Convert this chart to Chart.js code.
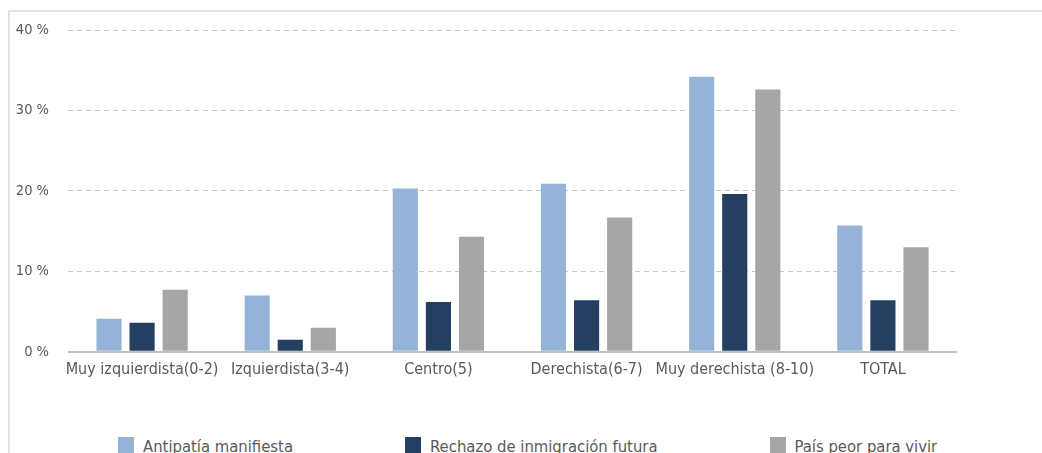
<!DOCTYPE html>
<html>
<head>
<meta charset="utf-8">
<script src="https://cdn.jsdelivr.net/npm/chart.js@4.4.1/dist/chart.umd.min.js"></script>
<style>
  html, body { margin: 0; padding: 0; background: #fff; overflow: hidden; width: 1042px; height: 453px; }
  #frame { position: absolute; left: 8px; top: 10px; width: 1100px; height: 500px; border: 2px solid #e2e2e2; box-sizing: border-box; }
  #wrap { position: absolute; left: 0; top: 0; width: 1042px; height: 400px; }
  #legend { position: absolute; left: 118px; top: 437px; display: flex; gap: 112px; font-family: 'DejaVu Sans Condensed', 'DejaVu Sans', sans-serif; font-size: 16.5px; color: #595959; white-space: nowrap; }
  #legend .item { display: flex; align-items: flex-start; }
  #legend .box { width: 16px; height: 20px; margin-right: 9px; }
  #legend .txt { line-height: 19px; }
</style>
</head>
<body>
<div id="frame"></div>
<div id="wrap"><canvas id="chart"></canvas></div>
<div id="legend"></div>
<script>
const categories = ['Muy izquierdista(0-2)', 'Izquierdista(3-4)', 'Centro(5)', 'Derechista(6-7)', 'Muy derechista (8-10)', 'TOTAL'];
const seriesNames = ['Antipatía manifiesta', 'Rechazo de inmigración futura', 'País peor para vivir'];
const antipatia = [4.1, 7.0, 20.3, 20.9, 34.2, 15.7];
const rechazo = [3.6, 1.5, 6.2, 6.4, 19.6, 6.4];
const paisPeor = [7.7, 3.0, 14.3, 16.7, 32.6, 13.0];
const yTicks = [0, 10, 20, 30, 40];
const colors = ['#95b3d7', '#243f60', '#a6a6a6'];

const family = "'DejaVu Sans Condensed', 'DejaVu Sans', sans-serif";
const values = [antipatia, rechazo, paisPeor];

const chart = new Chart(document.getElementById('chart'), {
  type: 'bar',
  data: {
    labels: categories,
    datasets: seriesNames.map((name, i) => ({
      label: name,
      data: values[i],
      backgroundColor: colors[i],
      categoryPercentage: 0.67,
      barPercentage: 0.76
    }))
  },
  options: {
    responsive: true,
    maintainAspectRatio: false,
    animation: false,
    layout: { padding: { left: 14, right: 85, top: 30, bottom: 21 } },
    plugins: { legend: { display: false }, tooltip: { enabled: false } },
    scales: {
      x: {
        grid: { display: false },
        border: { display: false },
        ticks: { color: '#595959', font: { family: family, size: 16 }, padding: 0, maxRotation: 0, autoSkip: false }
      },
      y: {
        min: 0,
        max: 40,
        afterBuildTicks: (axis) => { axis.ticks = yTicks.map(v => ({ value: v })); },
        afterFit: (axis) => { axis.width = 54; },
        grid: {
          drawTicks: false,
          color: (c) => c.tick && c.tick.value === 0 ? '#bfbfbf' : '#c8c8c8',
          lineWidth: (c) => c.tick && c.tick.value === 0 ? 2 : 1
        },
        border: { display: false, dash: (c) => c.tick && c.tick.value === 0 ? [] : [5, 4] },
        ticks: { color: '#595959', font: { family: family, size: 14.5 }, padding: 19, callback: (v) => v + ' %' }
      }
    }
  }
});

// html legend
const legend = document.getElementById('legend');
seriesNames.forEach((name, i) => {
  const item = document.createElement('div');
  item.className = 'item';
  item.innerHTML = '<span class="box" style="background:' + colors[i] + '"></span><span class="txt">' + name + '</span>';
  legend.appendChild(item);
});
</script>
</body>
</html>
